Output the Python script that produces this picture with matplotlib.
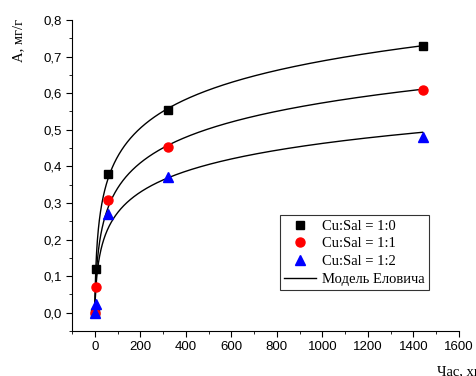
import numpy as np
import matplotlib
matplotlib.use('Agg')
from matplotlib import pyplot as plt
from matplotlib.ticker import MultipleLocator, FuncFormatter

# time, min
t = [0, 5, 60, 320, 1440]
a_10 = [0.0, 0.12, 0.378, 0.553, 0.73]
a_11 = [0.0, 0.07, 0.307, 0.453, 0.608]
a_12 = [0.0, 0.025, 0.27, 0.37, 0.48]
labels = ['Cu:Sal = 1:0', 'Cu:Sal = 1:1', 'Cu:Sal = 1:2']


def elovich_fit(x, y):
    # A = (1/b) ln(1 + c t), search c, solve 1/b by least squares
    x = np.asarray(x, float)
    y = np.asarray(y, float)
    best = None
    for c in np.logspace(-3, 2, 2000):
        g = np.log1p(c * x)
        k = np.dot(g, y) / np.dot(g, g)
        err = np.sum((k * g - y) ** 2)
        if best is None or err < best[0]:
            best = (err, c, k)
    return best[1], best[2]


fig = plt.figure(figsize=(4.76, 3.76), dpi=100)
ax = fig.add_axes([72 / 476, 45 / 376, 387 / 476, 311 / 376])

tt = np.linspace(0, 1440, 2000)
for y in (a_10, a_11, a_12):
    c, k = elovich_fit(t, y)
    ax.plot(tt, k * np.log1p(c * tt), color='black', lw=1, zorder=2)

ax.plot(t, a_10, 's', color='black', ms=5.5, label=labels[0], zorder=3)
ax.plot(t, a_11, 'o', color='red', ms=6.5, label=labels[1], zorder=3)
ax.plot(t, a_12, '^', color='blue', ms=6.5, label=labels[2], zorder=3)
ax.plot([], [], color='black', lw=1, label='Модель Еловича')

ax.set_xlim(-100, 1600)
ax.set_ylim(-0.05, 0.8)
ax.xaxis.set_major_locator(MultipleLocator(200))
ax.xaxis.set_minor_locator(MultipleLocator(100))
ax.yaxis.set_major_locator(MultipleLocator(0.1))
ax.yaxis.set_minor_locator(MultipleLocator(0.05))
ax.yaxis.set_major_formatter(FuncFormatter(lambda v, p: '{:.1f}'.format(v).replace('.', ',')))
ax.spines['top'].set_visible(False)
ax.spines['right'].set_visible(False)
ax.tick_params(which='both', direction='out')
ax.tick_params(which='major', length=4, labelsize=9.5)
ax.tick_params(which='minor', length=2.5)
for lab in ax.get_xticklabels() + ax.get_yticklabels():
    lab.set_family('Liberation Sans')

ax.set_ylabel('A, мг/г', family='Liberation Serif', fontsize=10.5)
ax.yaxis.set_label_coords(-0.12, 0.935)
fig.text(437 / 476, 1 - 372 / 376, 'Час, хв', family='Liberation Serif',
         fontsize=10.5, ha='left', va='center')

leg = ax.legend(loc='lower right', bbox_to_anchor=(357 / 387, 41 / 311),
                prop={'family': 'Liberation Serif', 'size': 10.5},
                frameon=True, fancybox=False, edgecolor='black',
                borderpad=0.3, labelspacing=0.3, handlelength=2.2,
                handletextpad=0.4, borderaxespad=0)
leg.get_frame().set_linewidth(0.8)

fig.savefig('out.png', dpi=100)
